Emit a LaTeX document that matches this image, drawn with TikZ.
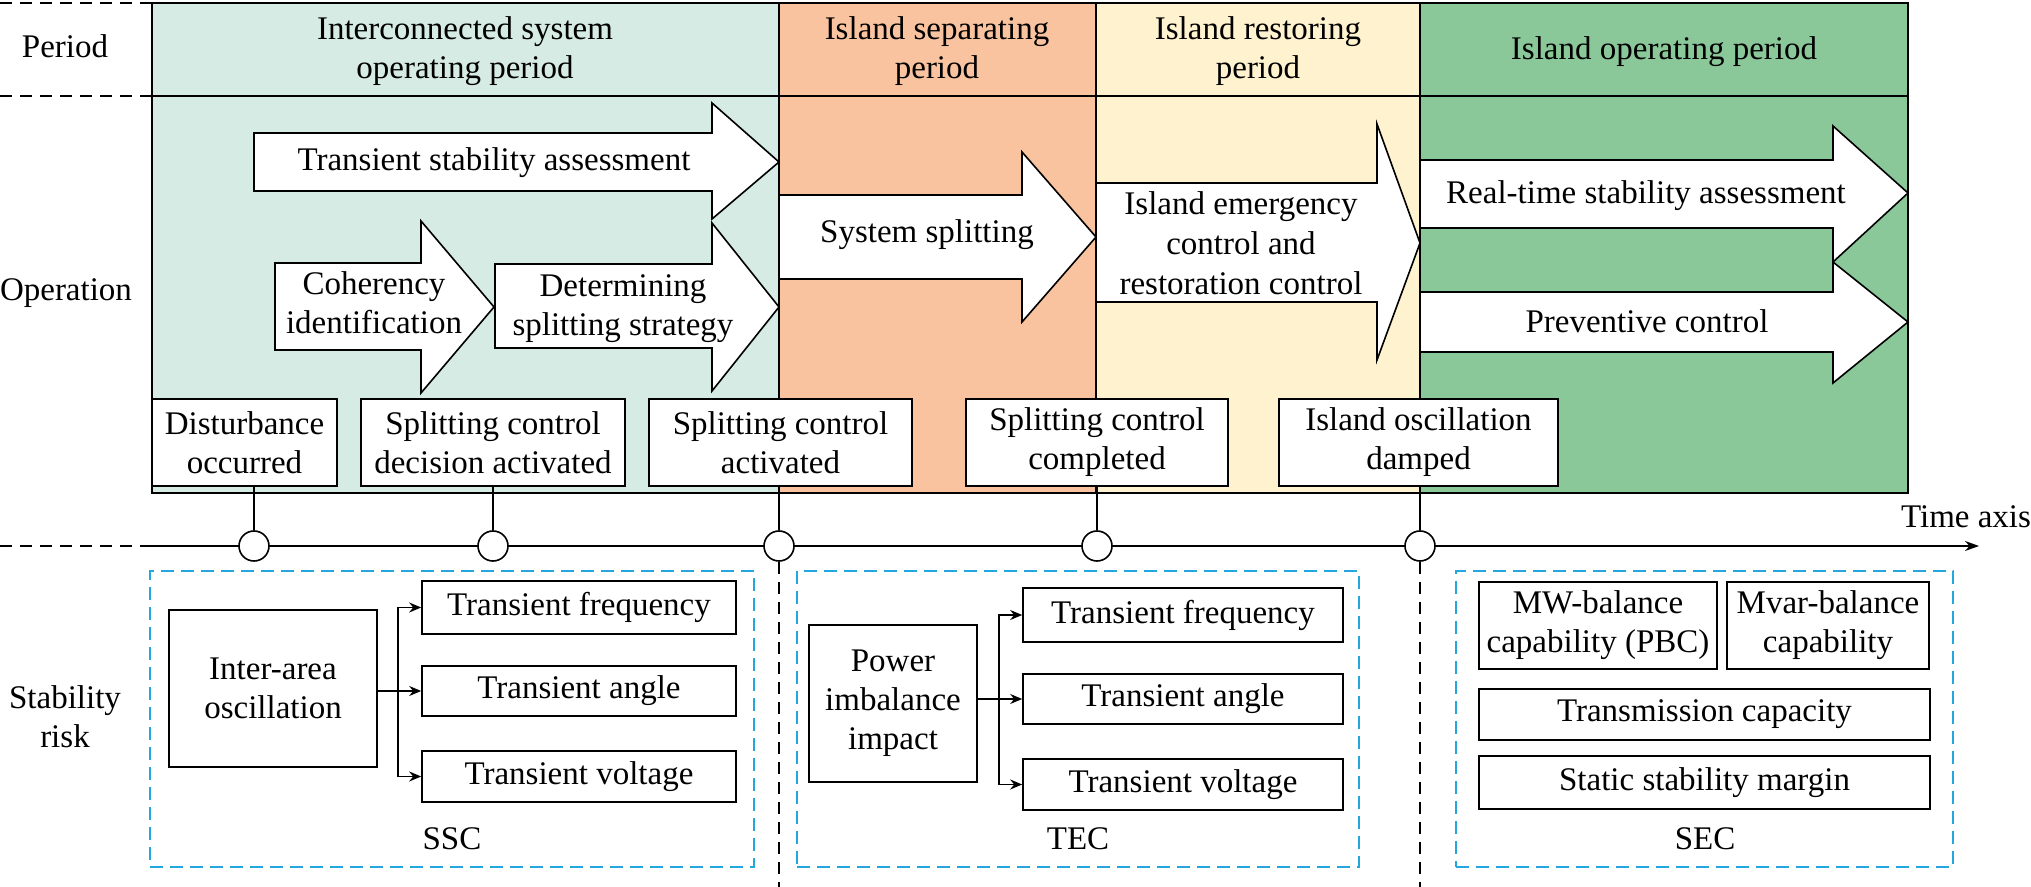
\documentclass[tikz,border=0pt]{standalone}
\usepackage{fontspec}
\setmainfont{Liberation Serif}
\usetikzlibrary{fit,arrows.meta}
\definecolor{cteal}{RGB}{213,235,227}
\definecolor{corange}{RGB}{249,195,159}
\definecolor{cyellow}{RGB}{255,242,207}
\definecolor{cgreen}{RGB}{139,200,153}
\definecolor{cblue}{RGB}{36,166,222}
\newcommand{\myfs}{\fontsize{16.5}{19.5}\selectfont}
\begin{document}
\begin{tikzpicture}[x=0.5pt,y=-0.5pt,
  lbl/.style={align=center,font=\myfs,inner sep=0pt},
  box/.style={draw,fill=white,line width=0.8pt,align=center,font=\myfs,inner sep=0pt},
  bigarrow/.style={draw,fill=white,line width=0.8pt,line join=miter},
  frameline/.style={line width=1pt},
  bdash/.style={draw=cblue,line width=0.9pt,dash pattern=on 6.5pt off 3.5pt,inner sep=0pt},
  kdash/.style={line width=0.7pt,dash pattern=on 6pt off 4pt},
  circ/.style={circle,draw,fill=white,line width=0.8pt,minimum size=15pt,inner sep=0pt},
  conn/.style={line width=0.8pt,-{Stealth[length=6pt,width=5pt]}}
]
\useasboundingbox (0,0) rectangle (2031,887);
\fill[white] (0,0) rectangle (2031,887);

% column fills
\fill[cteal] (152,3) rectangle (779,493);
\fill[corange] (779,3) rectangle (1096,493);
\fill[cyellow] (1096,3) rectangle (1420,493);
\fill[cgreen] (1420,3) rectangle (1908,493);

% operation arrows
\draw[bigarrow] (254,133) -- (712,133) -- (712,103) -- (779,162) -- (712,219) -- (712,191) -- (254,191) -- cycle;
\draw[bigarrow] (275,263) -- (421,263) -- (421,221) -- (494,307) -- (421,393) -- (421,350) -- (275,350) -- cycle;
\draw[bigarrow] (495,264) -- (712,264) -- (712,223) -- (779,307) -- (712,391) -- (712,348) -- (495,348) -- cycle;
\draw[bigarrow] (779,195) -- (1022,195) -- (1022,152) -- (1096,237) -- (1022,322) -- (1022,279) -- (779,279) -- cycle;
\draw[bigarrow] (1096,183) -- (1377,183) -- (1377,124) -- (1420,243) -- (1377,360) -- (1377,302) -- (1096,302) -- cycle;
\draw[bigarrow] (1420,160) -- (1833,160) -- (1833,126) -- (1908,193) -- (1833,262) -- (1833,228) -- (1420,228) -- cycle;
\draw[bigarrow] (1420,292) -- (1833,292) -- (1833,262) -- (1908,322) -- (1833,383) -- (1833,352) -- (1420,352) -- cycle;

\node[lbl] (tTSA) at (494,163) {Transient stability assessment};
\node[lbl] (tCoh) at (374,303) {Coherency\\identification};
\node[lbl] (tDet) at (623,309) {Determining\\splitting strategy};
\node[lbl] (tSys) at (927,235) {System splitting};
\node[lbl,font=\fontsize{16.5}{20}\selectfont] (tEmg) at (1241,243) {Island emergency\\control and\\restoration control};
\node[lbl] (tRT) at (1646,196) {Real-time stability assessment};
\node[lbl] (tPrev) at (1647,321) {Preventive control};

% frame and grid
\draw[frameline] (152,3) rectangle (1908,493);
\draw[frameline] (152,96) -- (1908,96);
\draw[frameline] (779,3) -- (779,493);
\draw[frameline] (1096,3) -- (1096,493);
\draw[frameline] (1420,3) -- (1420,493);

% period headers
\node[lbl] (h1) at (465,51) {Interconnected system\\operating period};
\node[lbl] (h2) at (937,51) {Island separating\\period};
\node[lbl] (h3) at (1258,51) {Island restoring\\period};
\node[lbl] (h4) at (1664,52) {Island operating period};

% row labels
\node[lbl] (pL) at (65,46) {Period};
\node[lbl] (oL) at (66,293) {Operation};
\node[lbl] (sL) at (65,717) {Stability\\risk};

% left dashed separators
\draw[kdash] (0,3) -- (152,3);
\draw[kdash] (0,96) -- (152,96);

% event boxes
\tikzset{ev/.style={box,minimum height=43.5pt}}
\node[ev,minimum width=92.5pt] (e1) at (244.5,442.5) {Disturbance\\occurred};
\node[ev,minimum width=132pt] (e2) at (493,442.5) {Splitting control\\decision activated};
\node[ev,minimum width=131.5pt] (e3) at (780.5,442.5) {Splitting control\\activated};
\node[ev,minimum width=131pt] (e4) at (1097,442.5) {Splitting control\\completed};
\node[ev,minimum width=139.5pt] (e5) at (1418.5,442.5) {Island oscillation\\damped};

% time axis
\coordinate (axL) at (152,546);
\coordinate (axR) at (1979,546);
\draw[kdash] (0,546) -- (axL);
\draw[line width=0.8pt,-{Stealth[length=7pt,width=5pt]}] (axL) -- (axR);
\node[lbl] (tax) at (1966,517) {Time axis};

\node[circ] (c1) at (254,546) {};
\node[circ] (c2) at (493,546) {};
\node[circ] (c3) at (779,546) {};
\node[circ] (c4) at (1097,546) {};
\node[circ] (c5) at (1420,546) {};

\draw[line width=0.8pt] (e1.south -| c1) -- (c1.north);
\draw[line width=0.8pt] (e2.south -| c2) -- (c2.north);
\draw[line width=0.8pt] (e3.south -| c3) -- (c3.north);
\draw[line width=0.8pt] (e4.south -| c4) -- (c4.north);
\draw[line width=0.8pt] (e5.south -| c5) -- (c5.north);

\coordinate (d3) at (779,887);
\coordinate (d5) at (1420,887);
\draw[kdash] (c3.south) -- (d3);
\draw[kdash] (c5.south) -- (d5);

% SSC group
\node[bdash,fit={(150,571) (754,867)}] (ssc) {};
\node[box,minimum width=104pt,minimum height=78.5pt] (ia) at (273,688.5) {Inter-area\\oscillation};
\node[box,minimum width=157pt,minimum height=26.5pt] (tf1) at (579,607.5) {Transient frequency};
\node[box,minimum width=157pt,minimum height=25pt] (ta1) at (579,691) {Transient angle};
\node[box,minimum width=157pt,minimum height=25.5pt] (tv1) at (579,776.5) {Transient voltage};
\draw[conn] (ia.east |- ta1) -- (ta1.west);
\draw[conn] (ia.east |- ta1) -- ++(20,0) |- (tf1.west);
\draw[conn] (ia.east |- ta1) -- ++(20,0) |- (tv1.west);
\node[lbl] (sscl) at (452,839) {SSC};

% TEC group
\node[bdash,fit={(797,571) (1359,867)}] (tec) {};
\node[box,minimum width=84pt,minimum height=78.5pt] (pi) at (893,703.5) {Power\\imbalance\\impact};
\node[box,minimum width=160pt,minimum height=27pt] (tf2) at (1183,615) {Transient frequency};
\node[box,minimum width=160pt,minimum height=25pt] (ta2) at (1183,699) {Transient angle};
\node[box,minimum width=160pt,minimum height=25.5pt] (tv2) at (1183,784.5) {Transient voltage};
\draw[conn] (pi.east |- ta2) -- (ta2.west);
\draw[conn] (pi.east |- ta2) -- ++(21,0) |- (tf2.west);
\draw[conn] (pi.east |- ta2) -- ++(21,0) |- (tv2.west);
\node[lbl] (tecl) at (1078,839) {TEC};

% SEC group
\node[bdash,fit={(1456,571) (1953,867)}] (sec) {};
\node[box,minimum width=119pt,minimum height=43.5pt] (mw) at (1598,625.5) {MW-balance\\capability (PBC)};
\node[box,minimum width=101pt,minimum height=43.5pt] (mvar) at (1828,625.5) {Mvar-balance\\capability};
\node[box,minimum width=225.5pt,minimum height=25.5pt] (tc) at (1704.5,714.5) {Transmission capacity};
\node[box,minimum width=225.5pt,minimum height=26.5pt] (ssm) at (1704.5,782.5) {Static stability margin};
\node[lbl] (secl) at (1705,839) {SEC};
\end{tikzpicture}
\end{document}
